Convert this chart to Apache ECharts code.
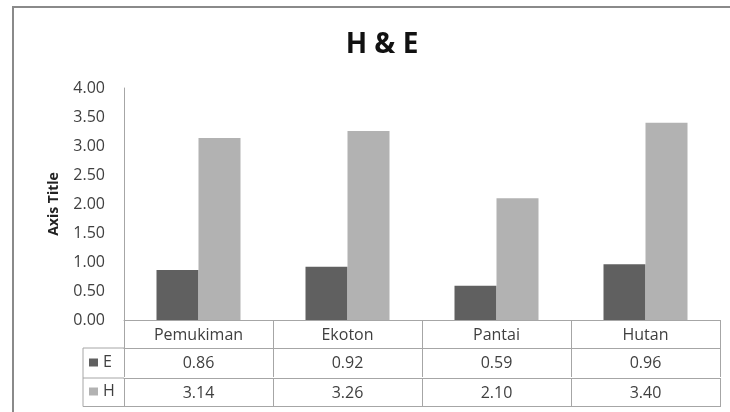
<!DOCTYPE html>
<html><head><meta charset="utf-8">
<script src="https://cdn.jsdelivr.net/npm/echarts@6/dist/echarts.min.js"></script>
<style>html,body{margin:0;padding:0;background:#fff}#c{width:730px;height:412px}</style>
</head><body><div id="c"></div>
<script>
const categories = ['Pemukiman', 'Ekoton', 'Pantai', 'Hutan'];
const valuesE = [0.86, 0.92, 0.59, 0.96];
const valuesH = [3.14, 3.26, 2.10, 3.40];
const yTicks = [0, 0.5, 1, 1.5, 2, 2.5, 3, 3.5, 4];

const FONT = 'Open Sans';
const TXT = '#3f3f3f';
const LINE = '#a6a6a6';
const colE = '#606060', colH = '#b2b2b2';
const FS = 16;

const chart = echarts.init(document.getElementById('c'));

function rowAxis(offset, values) {
  return {
    type: 'category', data: categories, gridIndex: 0, position: 'bottom', offset: offset,
    axisLine: { show: true, lineStyle: { color: LINE, width: 1 } },
    axisTick: { show: values !== null, length: values ? 29 : 0, interval: 0, lineStyle: { color: LINE } },
    axisLabel: {
      show: values !== null, interval: 0, margin: 7,
      color: TXT, fontFamily: FONT, fontSize: FS, lineHeight: 17,
      formatter: (v, i) => values ? values[i] : v
    }
  };
}

chart.setOption({
  animation: false,
  title: {
    text: 'H & E', left: 377, top: 26, textAlign: 'center',
    textStyle: { fontFamily: FONT, fontWeight: 'bold', fontSize: 28, color: '#111' }
  },
  legend: {
    orient: 'vertical', left: 89, top: 354, itemWidth: 9, itemHeight: 8, itemGap: 12,
    icon: 'rect', data: ['E', 'H'], padding: 0,
    textStyle: { fontFamily: FONT, fontSize: FS, color: TXT, lineHeight: 17, padding: [0, 0, 0, 0] }
  },
  grid: { left: 124, right: 10, top: 88, bottom: 92, containLabel: false },
  xAxis: [
    rowAxis(0, categories),
    rowAxis(28, valuesE.map(v => v.toFixed(2))),
    rowAxis(58, valuesH.map(v => v.toFixed(2))),
    rowAxis(86, null)
  ],
  yAxis: {
    type: 'value', min: yTicks[0], max: yTicks[yTicks.length - 1], interval: 0.5,
    name: 'Axis Title', nameLocation: 'middle', nameRotate: 90, nameGap: 63,
    nameTextStyle: { fontFamily: FONT, fontWeight: 'bold', fontSize: 14, color: '#222' },
    axisLine: { show: true, lineStyle: { color: LINE } },
    axisTick: { show: false },
    splitLine: { show: false },
    axisLabel: { color: TXT, fontFamily: FONT, fontSize: FS, margin: 19, formatter: v => v.toFixed(2) }
  },
  series: [
    { name: 'E', type: 'bar', data: valuesE, barWidth: 42, barGap: '0%', itemStyle: { color: colE } },
    { name: 'H', type: 'bar', data: valuesH, barWidth: 42, itemStyle: { color: colH } }
  ],
  graphic: [
    { type: 'rect', silent: true, shape: { x: 13, y: 7, width: 740, height: 430 },
      style: { fill: null, stroke: '#8a8a8a', lineWidth: 2 } },
    { type: 'polyline', silent: true, shape: { points: [[124, 348], [83, 348], [83, 406.5], [124, 406.5]] },
      style: { fill: null, stroke: LINE, lineWidth: 1 } },
    { type: 'line', silent: true, shape: { x1: 83, y1: 378, x2: 124, y2: 378 },
      style: { stroke: LINE, lineWidth: 1 } }
  ]
});
</script></body></html>
